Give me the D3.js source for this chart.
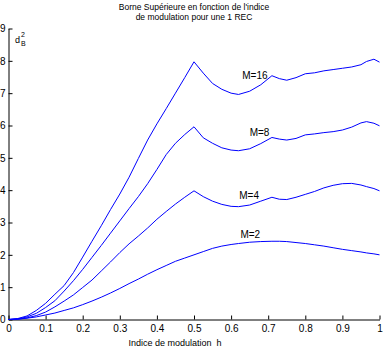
<!DOCTYPE html>
<html>
<head>
<meta charset="utf-8">
<script src="https://cdn.jsdelivr.net/npm/d3@7.9.0/dist/d3.min.js"></script>
<style>
  body { margin: 0; background: #fff; }
  svg { display: block; font-family: "Liberation Sans", Arial, sans-serif; }
</style>
</head>
<body>
<svg id="chart" width="386" height="351"></svg>
<script>
// indice de modulation h
const hValues = [0, 0.025, 0.05, 0.075, 0.1, 0.125, 0.15, 0.175, 0.2, 0.225, 0.25, 0.275, 0.3, 0.325, 0.35,
                 0.375, 0.4, 0.425, 0.45, 0.475, 0.5,
                 0.525, 0.55, 0.575, 0.6, 0.62, 0.65, 0.68, 0.71, 0.73, 0.75, 0.775, 0.8, 0.825, 0.85,
                 0.875, 0.9, 0.925, 0.95, 0.965, 0.985, 1];

// borne supérieure d_B^2 pour chaque M
const m2  = [0, 0.01, 0.04, 0.08, 0.14, 0.2, 0.28, 0.36, 0.46, 0.57, 0.69, 0.82, 0.96, 1.11, 1.25,
             1.4, 1.54, 1.67, 1.8, 1.9, 2.0,
             2.1, 2.2, 2.27, 2.32, 2.35, 2.39, 2.41, 2.42, 2.42, 2.41, 2.38, 2.35, 2.31, 2.27,
             2.22, 2.17, 2.13, 2.09, 2.06, 2.03, 2.0];
const m4  = [0, 0.01, 0.05, 0.12, 0.23, 0.39, 0.57, 0.76, 0.99, 1.22, 1.5, 1.78, 2.07, 2.34, 2.58,
             2.83, 3.1, 3.34, 3.57, 3.78, 3.98,
             3.8, 3.66, 3.56, 3.5, 3.49, 3.54, 3.66, 3.78, 3.72, 3.71, 3.78, 3.87, 3.96, 4.07,
             4.15, 4.2, 4.21, 4.16, 4.11, 4.05, 3.98];
const m8  = [0, 0.02, 0.08, 0.19, 0.37, 0.58, 0.88, 1.2, 1.55, 1.92, 2.29, 2.67, 3.05, 3.43, 3.8,
             4.2, 4.64, 5.1, 5.45, 5.72, 5.96,
             5.62, 5.45, 5.31, 5.24, 5.22, 5.28, 5.44, 5.63, 5.58, 5.55, 5.6, 5.71, 5.74, 5.78,
             5.81, 5.86, 5.95, 6.08, 6.12, 6.07, 5.99];
const m16 = [0, 0.03, 0.11, 0.28, 0.5, 0.78, 1.05, 1.45, 1.93, 2.42, 2.9, 3.4, 3.88, 4.4, 4.98,
             5.55, 6.05, 6.52, 7.0, 7.48, 7.97,
             7.62, 7.3, 7.12, 7.0, 6.96, 7.06, 7.26, 7.54, 7.45, 7.40, 7.48, 7.6, 7.63, 7.69,
             7.73, 7.77, 7.81, 7.88, 7.98, 8.05, 7.96];

const seriesNames = ["M=2", "M=4", "M=8", "M=16"];
const seriesData  = [m2, m4, m8, m16];
// where each "M=" label sits (h, d_B^2)
const labelH = [0.625, 0.622, 0.65, 0.63];
const labelV = [2.62, 3.83, 5.79, 7.55];

const xTicks = [0, 0.1, 0.2, 0.3, 0.4, 0.5, 0.6, 0.7, 0.8, 0.9, 1];
const yTicks = [0, 1, 2, 3, 4, 5, 6, 7, 8, 9];

const svg = d3.select("#chart");

const x = d3.scaleLinear().domain([0, 1]).range([8.5, 379.5]);
const y = d3.scaleLinear().domain([0, 9]).range([319.5, 28.5]);

// axes (ticks inward, no box)
svg.append("g")
  .attr("transform", `translate(0,${y(0)})`)
  .call(d3.axisBottom(x).tickValues(xTicks).tickSize(-4).tickSizeOuter(0).tickPadding(5)
        .tickFormat(d => d === 0 || d === 1 ? String(d) : d3.format(".1f")(d)));

svg.append("g")
  .attr("transform", `translate(${x(0)},0)`)
  .call(d3.axisLeft(y).tickValues(yTicks).tickSize(-4).tickSizeOuter(0).tickPadding(3)
        .tickFormat(d3.format("d")));

svg.selectAll(".tick text").attr("font-size", 10).attr("font-family", null).attr("fill", "#000");
svg.selectAll(".domain, .tick line").attr("stroke", "#000");

// curves
const line = d3.line().x((d, i) => x(hValues[i])).y(d => y(d));

svg.append("g")
  .selectAll("path")
  .data(seriesData)
  .enter()
  .append("path")
    .attr("d", line)
    .attr("fill", "none")
    .attr("stroke", "#0000ff")
    .attr("stroke-width", 1);

// labels
svg.append("g")
  .selectAll("text")
  .data(seriesNames)
  .enter()
  .append("text")
    .attr("x", (d, i) => x(labelH[i]))
    .attr("y", (d, i) => y(labelV[i]))
    .attr("dy", "0.35em")
    .attr("font-size", 10)
    .text(d => d);

// title
const title = svg.append("text")
  .attr("x", 194)
  .attr("y", 10)
  .attr("text-anchor", "middle")
  .attr("font-size", 8.5);
title.append("tspan").attr("x", 194).text("Borne Supérieure en fonction de l'indice");
title.append("tspan").attr("x", 194).attr("dy", 10).text("de modulation pour une 1 REC");

// x label
svg.append("text")
  .attr("x", 175)
  .attr("y", 346)
  .attr("text-anchor", "middle")
  .attr("font-size", 9)
  .attr("xml:space", "preserve")
  .text("Indice de modulation  h");

// y label d_B^2
const yl = svg.append("text").attr("font-size", 9);
yl.append("tspan").attr("x", 15).attr("y", 43).text("d");
yl.append("tspan").attr("x", 21).attr("y", 37).attr("font-size", 7).text("2");
yl.append("tspan").attr("x", 21).attr("y", 46).attr("font-size", 7).text("B");
</script>
</body>
</html>
